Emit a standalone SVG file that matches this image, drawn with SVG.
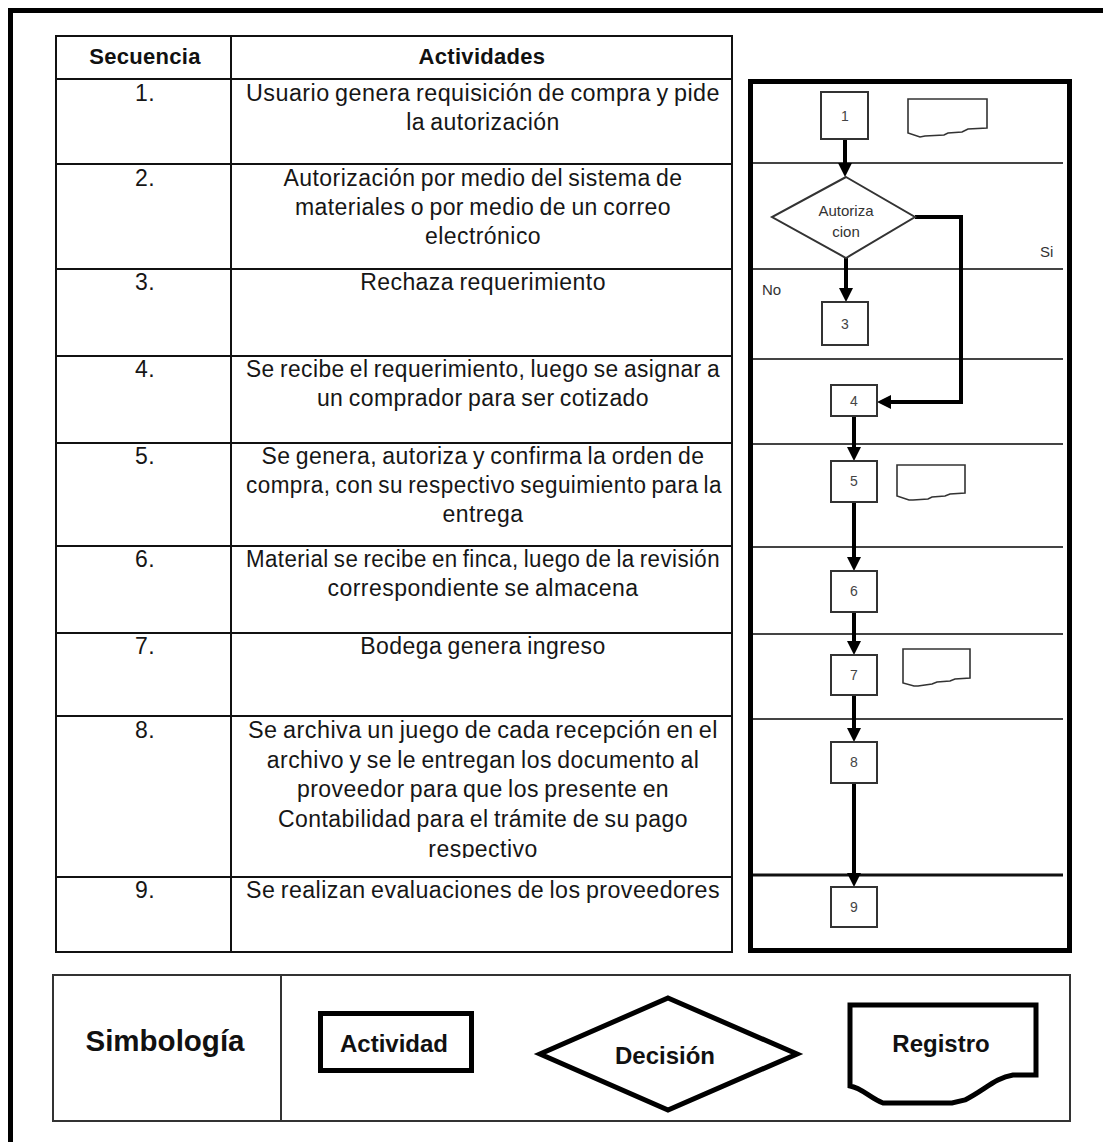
<svg xmlns="http://www.w3.org/2000/svg" width="1103" height="1142" viewBox="0 0 1103 1142">
<style>
.frame{fill:none;stroke:#000;stroke-width:5}
.tbl{fill:none;stroke:#111;stroke-width:2}
.hd{font-family:"Liberation Sans",Arial,sans-serif;font-weight:bold;font-size:22px;letter-spacing:0.3px;fill:#111;text-anchor:middle}
.tx{font-family:"Liberation Sans",Arial,sans-serif;font-size:23px;letter-spacing:0.45px;word-spacing:-1.5px;fill:#161616;text-anchor:middle}
.lane{stroke:#444;stroke-width:2}
.box{fill:#fff;stroke:#333;stroke-width:2}
.doc{fill:#fff;stroke:#333;stroke-width:1.6}
.num{font-family:"Liberation Sans",Arial,sans-serif;font-size:14px;fill:#444;text-anchor:middle}
.lbl{font-family:"Liberation Sans",Arial,sans-serif;font-size:15px;fill:#333}
.arr{fill:none;stroke:#000;stroke-width:4}
.leg{fill:none;stroke:#333;stroke-width:2}
.sym{fill:#fff;stroke:#000;stroke-width:5}
.lt{font-family:"Liberation Sans",Arial,sans-serif;font-weight:bold;font-size:24px;fill:#111;text-anchor:middle}
.big{font-size:29.5px}
</style>
<defs>
<marker id="ah" viewBox="0 0 10 10" refX="0" refY="5" markerWidth="14" markerHeight="14" markerUnits="userSpaceOnUse" orient="auto">
<path d="M0,0 L10,5 L0,10 Z" fill="#000"/>
</marker>
<clipPath id="c8"><rect x="231" y="716" width="501" height="142"/></clipPath>
</defs>
<rect width="1103" height="1142" fill="#fff"/>
<path class="frame" d="M10.5,1142 V10.5 H1103"/>

<g id="table">
<rect class="tbl" x="56" y="36" width="676" height="916"/>
<line class="tbl" x1="231" y1="36" x2="231" y2="952"/>
<g class="tbl">
<line x1="56" y1="79" x2="732" y2="79"/>
<line x1="56" y1="164" x2="732" y2="164"/>
<line x1="56" y1="269" x2="732" y2="269"/>
<line x1="56" y1="356" x2="732" y2="356"/>
<line x1="56" y1="443" x2="732" y2="443"/>
<line x1="56" y1="546" x2="732" y2="546"/>
<line x1="56" y1="633" x2="732" y2="633"/>
<line x1="56" y1="716" x2="732" y2="716"/>
<line x1="56" y1="877" x2="732" y2="877"/>
</g>
<text class="hd" x="145" y="64">Secuencia</text>
<text class="hd" x="482" y="64">Actividades</text>
<g class="tx">
<text x="145" y="101">1.</text>
<text x="483" y="101" textLength="474" lengthAdjust="spacingAndGlyphs">Usuario genera requisición de compra y pide</text>
<text x="483" y="130">la autorización</text>
<text x="145" y="186">2.</text>
<text x="483" y="186">Autorización por medio del sistema de</text>
<text x="483" y="215">materiales o por medio de un correo</text>
<text x="483" y="244">electrónico</text>
<text x="145" y="290">3.</text>
<text x="483" y="290">Rechaza requerimiento</text>
<text x="145" y="377">4.</text>
<text x="483" y="377" textLength="474" lengthAdjust="spacingAndGlyphs">Se recibe el requerimiento, luego se asignar a</text>
<text x="483" y="406">un comprador para ser cotizado</text>
<text x="145" y="464">5.</text>
<text x="483" y="464">Se genera, autoriza y confirma la orden de</text>
<text x="484" y="493" textLength="476" lengthAdjust="spacingAndGlyphs">compra, con su respectivo seguimiento para la</text>
<text x="483" y="522">entrega</text>
<text x="145" y="567">6.</text>
<text x="483" y="567" textLength="474" lengthAdjust="spacingAndGlyphs">Material se recibe en finca, luego de la revisión</text>
<text x="483" y="596">correspondiente se almacena</text>
<text x="145" y="654">7.</text>
<text x="483" y="654">Bodega genera ingreso</text>
<text x="145" y="738">8.</text>
<g clip-path="url(#c8)">
<text x="483" y="738" textLength="470" lengthAdjust="spacingAndGlyphs">Se archiva un juego de cada recepción en el</text>
<text x="483" y="768">archivo y se le entregan los documento al</text>
<text x="483" y="797">proveedor para que los presente en</text>
<text x="483" y="827">Contabilidad para el trámite de su pago</text>
<text x="483" y="857">respectivo</text>
</g>
<text x="145" y="898">9.</text>
<text x="483" y="898" textLength="474" lengthAdjust="spacingAndGlyphs">Se realizan evaluaciones de los proveedores</text>
</g>
</g>

<g id="flowchart">
<rect class="frame" x="750.5" y="81.5" width="319" height="869"/>
<g class="lane">
<line x1="753" y1="163" x2="1063" y2="163"/>
<line x1="753" y1="269" x2="1063" y2="269"/>
<line x1="753" y1="359" x2="1063" y2="359"/>
<line x1="753" y1="444" x2="1063" y2="444"/>
<line x1="753" y1="547" x2="1063" y2="547"/>
<line x1="753" y1="634" x2="1063" y2="634"/>
<line x1="753" y1="719" x2="1063" y2="719"/>
<line x1="753" y1="875" x2="1063" y2="875" stroke="#111" stroke-width="3"/>
</g>
<text class="lbl" x="1040" y="257">Si</text>
<text class="lbl" x="762" y="295">No</text>
</g>

<g id="connectors">
<line class="arr" x1="845" y1="139" x2="845" y2="163" marker-end="url(#ah)"/>
<line class="arr" x1="846" y1="258" x2="846" y2="288" marker-end="url(#ah)"/>
<path class="arr" d="M915,217 H961 V402 H891" stroke-width="3" marker-end="url(#ah)"/>
<line class="arr" x1="854" y1="416" x2="854" y2="447" marker-end="url(#ah)"/>
<line class="arr" x1="854" y1="502" x2="854" y2="557" marker-end="url(#ah)"/>
<line class="arr" x1="854" y1="612" x2="854" y2="641" marker-end="url(#ah)"/>
<line class="arr" x1="854" y1="695" x2="854" y2="728" marker-end="url(#ah)"/>
<line class="arr" x1="854" y1="783" x2="854" y2="873" marker-end="url(#ah)"/>
</g>

<g id="n1"><rect class="box" x="821" y="92" width="47" height="47"/><text class="num" x="845" y="121">1</text></g>
<g id="r1"><path class="doc" d="M908,99 H987 V128 L968,129 L962,132 L948,133 L944,135 L925,136 L920,137 L908,133 Z"/></g>
<g id="n2"><polygon class="box" points="846,177 915,217 846,258 772,217"/><text class="lbl" x="846" y="216" text-anchor="middle">Autoriza</text><text class="lbl" x="846" y="237" text-anchor="middle">cion</text></g>
<g id="n3"><rect class="box" x="822" y="302" width="46" height="43"/><text class="num" x="845" y="329">3</text></g>
<g id="n4"><rect class="box" x="831" y="385" width="46" height="31"/><text class="num" x="854" y="406">4</text></g>
<g id="n5"><rect class="box" x="831" y="461" width="46" height="41"/><text class="num" x="854" y="486">5</text></g>
<g id="r5"><path class="doc" d="M897,465 H965 V493 L950,494 L945,496 L932,497 L928,499 L913,500 L909,500 L897,496 Z"/></g>
<g id="n6"><rect class="box" x="831" y="571" width="46" height="41"/><text class="num" x="854" y="596">6</text></g>
<g id="n7"><rect class="box" x="831" y="655" width="46" height="40"/><text class="num" x="854" y="680">7</text></g>
<g id="r7"><path class="doc" d="M903,649 H970 V678 L955,679 L950,681 L937,682 L932,684 L918,686 L914,686 L903,683 Z"/></g>
<g id="n8"><rect class="box" x="831" y="742" width="46" height="41"/><text class="num" x="854" y="767">8</text></g>
<g id="n9"><rect class="box" x="831" y="887" width="46" height="40"/><text class="num" x="854" y="912">9</text></g>

<g id="legend">
<rect class="leg" x="53" y="975" width="1017" height="146"/>
<line class="leg" x1="281" y1="975" x2="281" y2="1121"/>
<text class="lt big" x="165" y="1051">Simbología</text>
<g id="sym-actividad"><rect class="sym" x="320.5" y="1013.5" width="151" height="57"/><text class="lt" x="394" y="1052">Actividad</text></g>
<g id="sym-decision"><polygon class="sym" points="668,998 797,1054 668,1110 540,1054"/><text class="lt" x="665" y="1064">Decisión</text></g>
<g id="sym-registro"><path class="sym" d="M850,1005 H1036 V1075 H1013 C995,1078 985,1090 965,1100 L952,1103 H883 C870,1098 862,1088 850,1086 Z"/><text class="lt" x="941" y="1052">Registro</text></g>
</g>
</svg>
